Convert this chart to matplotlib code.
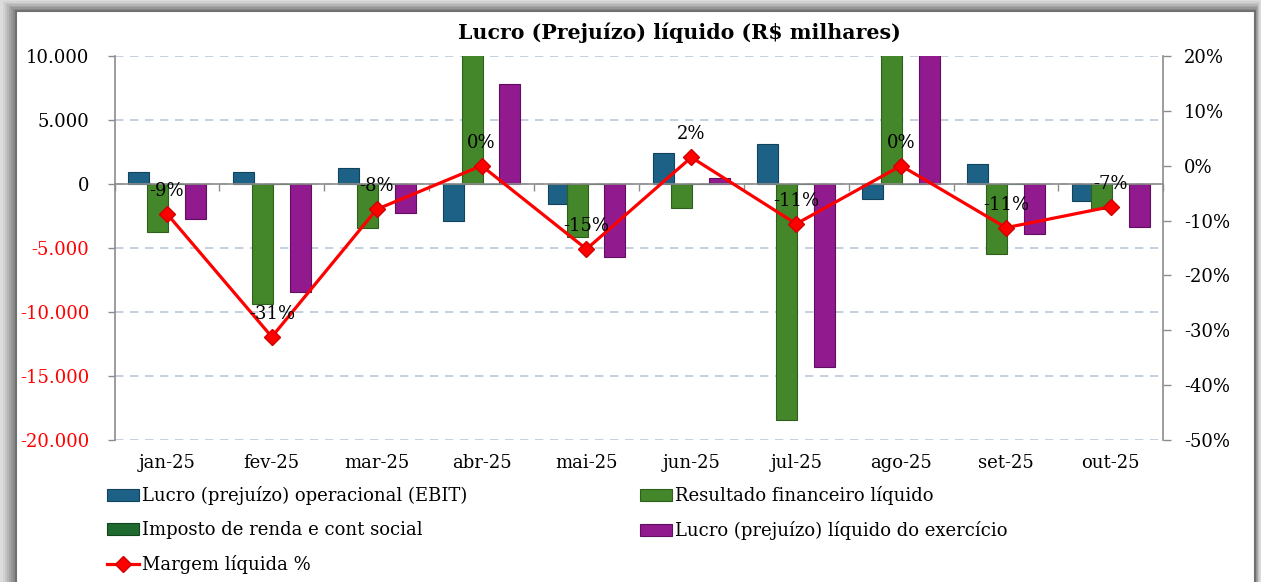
import matplotlib
matplotlib.use('Agg')
import matplotlib.pyplot as plt
from matplotlib.ticker import FuncFormatter, MultipleLocator, FixedLocator
from matplotlib.patches import Rectangle
import numpy as np

plt.rcParams['font.family'] = ['DejaVu Serif']

# ---------------- data ----------------
months = ['jan-25', 'fev-25', 'mar-25', 'abr-25', 'mai-25',
          'jun-25', 'jul-25', 'ago-25', 'set-25', 'out-25']
ebit = [950, 910, 1220, -2870, -1560, 2400, 3125, -1200, 1560, -1300]
fin_result = [-3770, -9375, -3460, 10660, -4170, -1900, -18440, 12500, -5470, -1980]
tax = [0, 0, 0, 0, 0, 0, 0, 0, 0, 0]
net_income = [-2760, -8460, -2290, 7790, -5680, 450, -14270, 11300, -3930, -3330]
net_margin = [-0.0875, -0.312, -0.0795, 0.0, -0.152, 0.0153, -0.106, 0.0, -0.113, -0.0747]

series_names = ['Lucro (prejuízo) operacional (EBIT)',
                'Resultado financeiro líquido',
                'Imposto de renda e cont social',
                'Lucro (prejuízo) líquido do exercício']
line_name = 'Margem líquida %'
title = 'Lucro (Prejuízo) líquido (R$ milhares)'

colors = ['#1d6286', '#44862a', '#1f6a2e', '#921a8f']
edges = ['#12435c', '#2e5f1c', '#12451d', '#5f0f5d']

W, H = 1261, 582
fig = plt.figure(figsize=(W / 100, H / 100), dpi=100)
fig.patch.set_facecolor('#dcdcdc')


def fx(px):
    return px / W


def fy(py):
    return 1 - py / H


# frame with shadow
shades = ['#d2d2d2', '#c4c4c4', '#b6b6b6', '#a6a6a6', '#979797', '#898989']
for i, c in enumerate(shades):
    x0 = 3 + i * 2
    y0 = 1 + i * 1.6
    x1 = 1260 - i * 0.8
    fig.add_artist(Rectangle((fx(x0), -0.05), fx(x1) - fx(x0), fy(y0) + 0.05,
                             transform=fig.transFigure, facecolor=c,
                             edgecolor='none', zorder=0))
fig.add_artist(Rectangle((fx(15.5), -0.05), fx(1255) - fx(15.5), fy(10.5) + 0.05,
                         transform=fig.transFigure, facecolor='white',
                         edgecolor='#707070', linewidth=1.5, zorder=0.5))

ax = fig.add_axes([fx(114.5), fy(440), fx(1163.3) - fx(114.5), (440 - 56) / H])
ax.set_facecolor('none')
ax.set_zorder(2)

x = np.arange(len(months))
width = 0.2
offsets = [-0.27, -0.09, 0.09, 0.27]
bars = []
for vals, off, c, e, name in zip([ebit, fin_result, tax, net_income], offsets,
                                 colors, edges, series_names):
    b = ax.bar(x + off, vals, width, color=c, edgecolor=e, linewidth=0.8,
               label=name, zorder=3)
    bars.append(b)

ax.set_xlim(-0.5, len(months) - 0.5)
ax.set_ylim(-20000, 10000)
ax.yaxis.set_major_locator(MultipleLocator(5000))
ax.yaxis.set_major_formatter(FuncFormatter(lambda v, p: f"{v:,.0f}".replace(',', '.')))
ax.tick_params(axis='y', direction='out', length=5, width=1, color='#8c8c8c',
               labelsize=13, pad=13)

# grid
ax.grid(axis='y', linestyle=(0, (5, 4)), linewidth=1.2, color='#b9c8d8', zorder=1)
ax.set_axisbelow(True)

for s in ['top', 'right']:
    ax.spines[s].set_visible(False)
ax.spines['left'].set_color('#8c8c8c')
ax.spines['left'].set_linewidth(1.2)
ax.spines['bottom'].set_position(('data', 0))
ax.spines['bottom'].set_color('#8c8c8c')
ax.spines['bottom'].set_linewidth(1.2)
ax.spines['bottom'].set_zorder(4)
ax.xaxis.set_major_locator(FixedLocator(np.arange(-0.5, len(months), 1.0)))
ax.tick_params(axis='x', direction='out', length=5, width=1, color='#8c8c8c',
               labelbottom=False)

trans = ax.get_xaxis_transform()
for xi, m in zip(x, months):
    ax.text(xi, -0.06, m, transform=trans, ha='center', va='center', fontsize=13)

# secondary axis
ax2 = ax.twinx()
ax2.set_zorder(3)
ax2.set_facecolor('none')
ax2.set_ylim(-0.5, 0.2)
ax2.yaxis.set_major_locator(MultipleLocator(0.1))
ax2.yaxis.set_major_formatter(FuncFormatter(lambda v, p: f"{v * 100:.0f}%"))
ax2.tick_params(axis='y', direction='out', length=6, width=1, color='#8c8c8c',
                labelsize=13, pad=9)
for s in ['top', 'left', 'bottom']:
    ax2.spines[s].set_visible(False)
ax2.spines['right'].set_color('#8c8c8c')
ax2.spines['right'].set_linewidth(1.2)

line, = ax2.plot(x, net_margin, color='#ff0000', linewidth=2.3, marker='D',
                 markersize=8.5, markerfacecolor='#ff0000', markeredgecolor='#d00000',
                 label=line_name, zorder=5, clip_on=False)
for xi, v in zip(x, net_margin):
    ax2.annotate(f"{v * 100:.0f}%", (xi, v), xytext=(0, 23), textcoords='offset pixels',
                 ha='center', va='center', fontsize=13, zorder=6)

fig.canvas.draw()
for lbl in ax.get_yticklabels():
    txt = lbl.get_text().replace('\u2212', '-')
    if txt.startswith('-'):
        lbl.set_color('#ff0000')

# title
fig.text(fx(679), fy(33), title, ha='center', va='center', fontsize=14.8,
         fontweight='bold')

# legends (row-major layout emulated with two columns)
leg_kw = dict(loc='upper left', frameon=False, fontsize=13, borderpad=0,
              borderaxespad=0, handlelength=1.75, handletextpad=0.2,
              labelspacing=0.9, handleheight=0.65)
leg1 = fig.legend([bars[0], bars[2], line], [series_names[0], series_names[2], line_name],
                  bbox_to_anchor=(fx(107), fy(486)), **leg_kw)
leg2 = fig.legend([bars[1], bars[3]], [series_names[1], series_names[3]],
                  bbox_to_anchor=(fx(640), fy(486)), **leg_kw)

fig.savefig('out.png', dpi=100, facecolor=fig.get_facecolor())
